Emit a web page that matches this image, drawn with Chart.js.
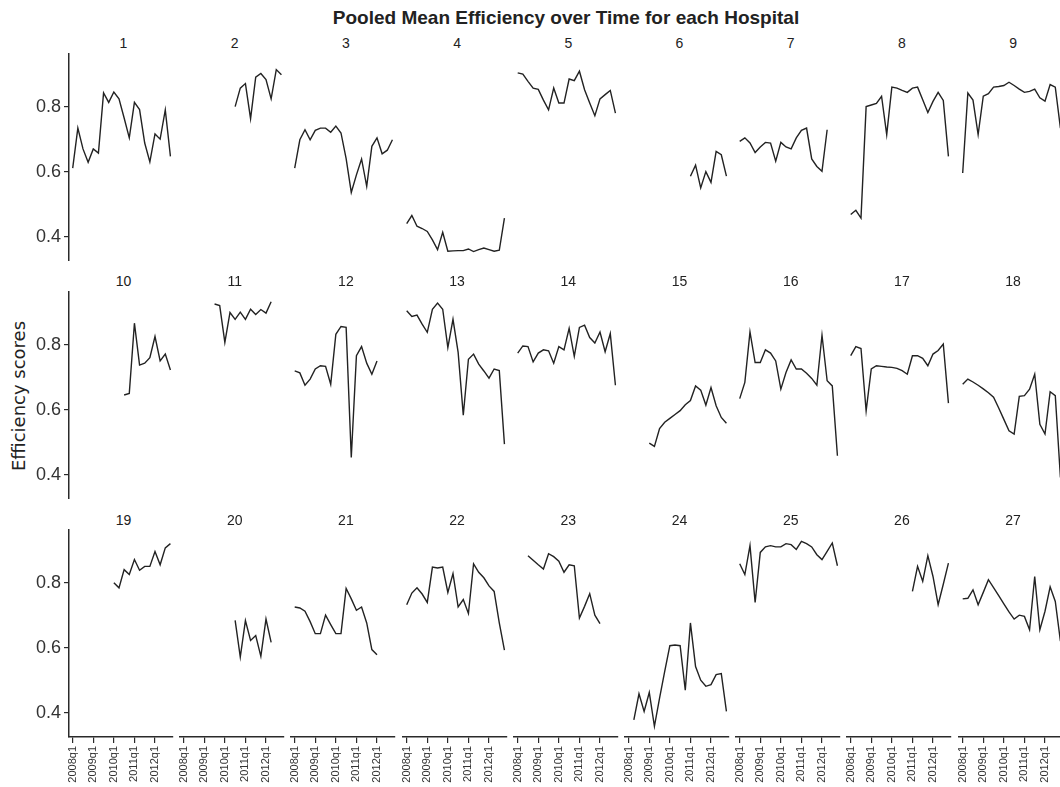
<!DOCTYPE html>
<html>
<head>
<meta charset="utf-8">
<script src="https://cdn.jsdelivr.net/npm/chart.js@4.4.1/dist/chart.umd.min.js"></script>
<style>
  html, body { margin: 0; padding: 0; background: #fff; }
  #wrap { position: relative; width: 1060px; height: 787px; overflow: hidden; background: #fff; }
  #wrap canvas { position: absolute; }
  #title {
    position: absolute; left: 266px; top: 8px; width: 600px; text-align: center;
    font-family: "Liberation Sans", Arial, sans-serif; font-weight: bold;
    font-size: 19px; line-height: 19px; color: #222; white-space: nowrap;
  }
  #ytitle {
    position: absolute; left: -81px; top: 386px; width: 200px; height: 20px;
    text-align: center; line-height: 20px; white-space: nowrap;
    font-family: "DejaVu Sans", sans-serif; font-size: 18px; color: #222;
    transform: rotate(-90deg);
  }
  .plabel {
    position: absolute; width: 40px; text-align: center;
    font-family: "Liberation Sans", Arial, sans-serif; font-size: 14px; line-height: 14px; color: #222;
  }
</style>
</head>
<body>
<div id="wrap">
  <div id="title">Pooled Mean Efficiency over Time for each Hospital</div>
  <div id="ytitle">Efficiency scores</div>
</div>
<script>
// Quarterly periods, 2008q1 .. 2012q4
const quarters = ['2008q1','2008q2','2008q3','2008q4','2009q1','2009q2','2009q3','2009q4',
                  '2010q1','2010q2','2010q3','2010q4','2011q1','2011q2','2011q3','2011q4',
                  '2012q1','2012q2','2012q3','2012q4'];
const xTickValues = [0, 4, 8, 12, 16];      // 2008q1, 2009q1, 2010q1, 2011q1, 2012q1
const yTickValues = [0.4, 0.6, 0.8];
const hospitalNames = ['1','2','3','4','5','6','7','8','9','10','11','12','13','14',
                       '15','16','17','18','19','20','21','22','23','24','25','26','27'];

// Pooled mean efficiency per quarter (null = no observation)
const h1  = [0.611,0.734,0.670,0.629,0.670,0.657,0.842,0.813,0.845,0.824,0.765,0.704,0.813,0.791,0.688,0.630,0.716,0.700,0.790,0.647];
const h2  = [null,null,null,null,null,null,null,null,null,null,0.800,0.857,0.871,0.763,0.891,0.902,0.883,0.824,0.914,0.898];
const h3  = [0.611,0.698,0.729,0.698,0.727,0.734,0.734,0.721,0.740,0.719,0.640,0.536,0.590,0.639,0.555,0.678,0.704,0.655,0.666,0.698];
const h4  = [0.440,0.465,0.432,0.425,0.416,0.390,0.360,0.413,0.355,0.356,0.357,0.357,0.362,0.354,0.360,0.365,0.360,0.355,0.358,0.457];
const h5  = [0.904,0.900,0.878,0.857,0.853,0.820,0.790,0.857,0.811,0.811,0.885,0.880,0.909,0.852,0.811,0.772,0.824,0.837,0.850,0.780];
const h6  = [null,null,null,null,null,null,null,null,null,null,null,null,0.586,0.620,0.550,0.600,0.567,0.662,0.652,0.586];
const h7  = [0.693,0.704,0.688,0.659,0.676,0.690,0.688,0.632,0.690,0.676,0.670,0.704,0.727,0.734,0.639,0.616,0.601,0.729,null,null];
const h8  = [0.468,0.481,0.457,0.800,0.805,0.810,0.832,0.714,0.860,0.857,0.850,0.844,0.857,0.860,0.821,0.782,0.816,0.844,0.819,0.647];
const h9  = [0.596,0.842,0.820,0.714,0.832,0.840,0.860,0.862,0.865,0.875,0.865,0.854,0.844,0.847,0.854,0.827,0.817,0.868,0.860,0.734];
const h10 = [null,null,null,null,null,null,null,null,null,null,0.645,0.650,0.866,0.737,0.743,0.760,0.825,0.750,0.771,0.722];
const h11 = [null,null,null,null,null,null,0.925,0.920,0.807,0.899,0.878,0.900,0.878,0.909,0.893,0.908,0.897,0.932,null,null];
const h12 = [0.719,0.713,0.675,0.694,0.725,0.735,0.733,0.678,0.832,0.856,0.853,0.453,0.766,0.794,0.743,0.709,0.750,null,null,null];
const h13 = [0.904,0.887,0.891,0.863,0.838,0.909,0.928,0.909,0.791,0.878,0.776,0.583,0.755,0.771,0.740,0.719,0.697,0.725,0.720,0.494];
const h14 = [0.774,0.796,0.794,0.747,0.774,0.784,0.781,0.743,0.794,0.784,0.850,0.764,0.853,0.860,0.822,0.805,0.839,0.778,0.834,0.675];
const h15 = [null,null,null,null,0.497,0.487,0.542,0.561,0.573,0.585,0.597,0.615,0.628,0.673,0.660,0.614,0.668,0.612,0.576,0.558];
const h16 = [0.634,0.684,0.839,0.745,0.745,0.784,0.774,0.750,0.663,0.714,0.753,0.725,0.725,0.712,0.696,0.675,0.829,0.689,0.673,0.458];
const h17 = [0.766,0.794,0.788,0.596,0.725,0.735,0.733,0.731,0.730,0.727,0.720,0.709,0.766,0.766,0.758,0.735,0.771,0.782,0.802,0.620];
const h18 = [0.678,0.694,0.685,0.675,0.664,0.652,0.638,0.605,0.570,0.535,0.525,0.641,0.643,0.663,0.709,0.555,0.525,0.655,0.643,0.391];
const h19 = [null,null,null,null,null,null,null,null,0.800,0.784,0.840,0.825,0.871,0.838,0.850,0.850,0.896,0.855,0.907,0.920];
const h20 = [null,null,null,null,null,null,null,null,null,null,0.684,0.571,0.683,0.622,0.637,0.573,0.688,0.616,null,null];
const h21 = [0.725,0.722,0.712,0.680,0.643,0.643,0.700,0.671,0.643,0.643,0.782,0.750,0.715,0.725,0.676,0.594,0.578,null,null,null];
const h22 = [0.732,0.768,0.784,0.765,0.739,0.848,0.845,0.848,0.770,0.828,0.725,0.748,0.705,0.858,0.832,0.815,0.790,0.773,0.676,0.592];
const h23 = [null,null,0.883,0.869,0.855,0.842,0.889,0.880,0.866,0.832,0.855,0.852,0.691,0.727,0.766,0.700,0.674,null,null,null];
const h24 = [null,0.378,0.458,0.404,0.462,0.358,0.445,0.527,0.606,0.608,0.606,0.469,0.676,0.542,0.500,0.481,0.486,0.517,0.520,0.404];
const h25 = [0.858,0.825,0.914,0.739,0.893,0.910,0.914,0.910,0.910,0.920,0.917,0.902,0.927,0.920,0.910,0.886,0.871,0.896,0.922,0.852];
const h26 = [null,null,null,null,null,null,null,null,null,null,null,null,0.773,0.850,0.804,0.883,0.819,0.732,0.795,0.860];
const h27 = [0.750,0.752,0.778,0.732,0.770,0.809,0.785,0.760,0.735,0.710,0.688,0.700,0.696,0.655,0.819,0.655,0.712,0.787,0.742,0.620];

const series = [h1,h2,h3,h4,h5,h6,h7,h8,h9,h10,h11,h12,h13,h14,h15,h16,h17,h18,h19,h20,h21,h22,h23,h24,h25,h26,h27];

// Small-multiple grid geometry (9 columns x 3 rows)
const NCOL = 9;
const PLOT_W = 104, PLOT_H = 207;
const COL_STEP = 111.2, ROW_STEP = 238.2;
const LEFT0 = 69, TOP0 = 54;
const Y_AXIS_W = 60, X_AXIS_H = 60, PAD = 8, PAD_TOP = 4;
const INK = '#222', AXIS_INK = '#2a2a2a';

const wrap = document.getElementById('wrap');

series.forEach((vals, k) => {
  const c = k % NCOL, r = Math.floor(k / NCOL);
  const hasY = c === 0, hasX = r === 2;
  const plotLeft = LEFT0 + c * COL_STEP;
  const plotTop = TOP0 + r * ROW_STEP;

  // panel heading
  const lab = document.createElement('div');
  lab.className = 'plabel';
  lab.textContent = hospitalNames[k];
  lab.style.left = (plotLeft + PLOT_W / 2 + 2.5 - 20) + 'px';
  lab.style.top = (plotTop - 6 - 11.85) + 'px';
  wrap.appendChild(lab);

  const cv = document.createElement('canvas');
  const w = PLOT_W + 2 * PAD + (hasY ? Y_AXIS_W : 0);
  const h = PLOT_H + PAD_TOP + (hasX ? X_AXIS_H : 0);
  cv.width = w; cv.height = h;
  cv.style.width = w + 'px'; cv.style.height = h + 'px';
  cv.style.left = Math.round(plotLeft - PAD - (hasY ? Y_AXIS_W : 0)) + 'px';
  cv.style.top = Math.round(plotTop - PAD_TOP) + 'px';
  wrap.appendChild(cv);

  // fixed axis thickness, and no extra inset from end-label overflow
  const xScale = {
    type: 'linear', min: -0.72, max: 19.5, display: hasX,
    afterBuildTicks: s => { s.ticks = xTickValues.map(v => ({ value: v })); },
    grid: { drawOnChartArea: false, drawTicks: true, tickLength: 6, color: AXIS_INK, lineWidth: 1.2 },
    border: { display: true, color: AXIS_INK, width: 1.5 },
    ticks: {
      autoSkip: false, minRotation: 90, maxRotation: 90, padding: 3, color: '#333',
      font: { family: '"Liberation Sans", Arial, sans-serif', size: 11 },
      callback: v => quarters[v]
    }
  };
  if (hasX) xScale.afterFit = s => { s.height = X_AXIS_H; s.paddingLeft = 0; s.paddingRight = 0; };

  const yScale = {
    min: 0.325, max: 0.962, display: hasY,
    afterBuildTicks: s => { s.ticks = yTickValues.map(v => ({ value: v })); },
    grid: { drawOnChartArea: false, drawTicks: true, tickLength: 5, color: AXIS_INK, lineWidth: 1.2 },
    border: { display: true, color: AXIS_INK, width: 1.5 },
    ticks: {
      padding: 3, color: '#333',
      font: { family: '"Liberation Sans", Arial, sans-serif', size: 18 },
      callback: v => v.toFixed(1)
    }
  };
  if (hasY) yScale.afterFit = s => { s.width = Y_AXIS_W; s.paddingTop = 0; s.paddingBottom = 0; };

  new Chart(cv, {
    type: 'line',
    data: {
      datasets: [{
        label: 'Hospital ' + hospitalNames[k],
        data: vals.map((v, i) => ({ x: i, y: v })),
        borderColor: INK,
        borderWidth: 1.4,
        pointRadius: 0,
        tension: 0,
        spanGaps: false,
        clip: false
      }]
    },
    options: {
      responsive: false,
      animation: false,
      devicePixelRatio: 1,
      layout: { padding: { left: PAD, right: PAD, top: PAD_TOP, bottom: 0 } },
      plugins: { legend: { display: false }, tooltip: { enabled: false }, title: { display: false } },
      scales: { x: xScale, y: yScale }
    }
  });
});
</script>
</body>
</html>
